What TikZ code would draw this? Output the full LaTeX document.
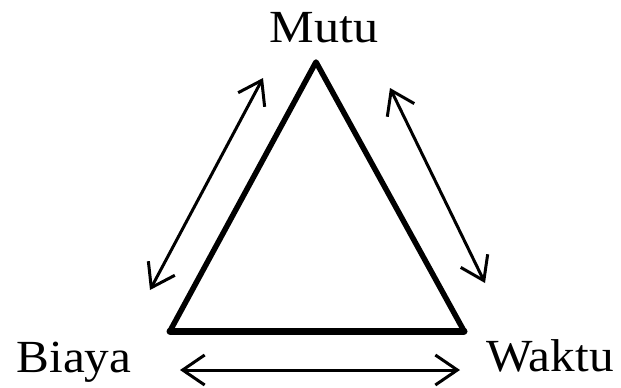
\documentclass[tikz,border=0pt]{standalone}
\usepackage{fontspec}
\setmainfont{Liberation Serif}
\usetikzlibrary{arrows.meta}
\begin{document}
\begin{tikzpicture}[x=1pt,y=-1pt,
  side/.style={line width=5.5pt,line cap=round,line join=round},
  base/.style={line width=7pt,line cap=round},
  dbl/.style={line width=3pt,{Straight Barb[length=22pt,width=30pt,line width=3pt]}-{Straight Barb[length=22pt,width=30pt,line width=3pt]}},
  lbl/.style={inner sep=0pt,anchor=base,font=\fontsize{46}{50}\selectfont}]
\useasboundingbox (0,0) rectangle (621,388);
\coordinate (top) at (316,62);
\coordinate (bl) at (170,331);
\coordinate (br) at (464,331);
\draw[side] (bl) -- (top) -- (br);
\draw[base] (bl) -- (br);
\node[lbl] (mutu) at (324,42) {\scalebox{1.09}[1]{Mutu}};
\node[lbl] (biaya) at (74,372) {\scalebox{1.07}[1]{Biaya}};
\node[lbl] (waktu) at (550,371) {\scalebox{1.07}[1]{Waktu}};
\coordinate (l1) at (150,290);
\coordinate (l2) at (263,78);
\coordinate (r1) at (390,88);
\coordinate (r2) at (485,283);
\coordinate (b1) at (180,370);
\coordinate (b2) at (460,370);
\draw[dbl] (l1) -- (l2);
\draw[dbl] (r1) -- (r2);
\draw[dbl] (b1) -- (b2);
\end{tikzpicture}
\end{document}
